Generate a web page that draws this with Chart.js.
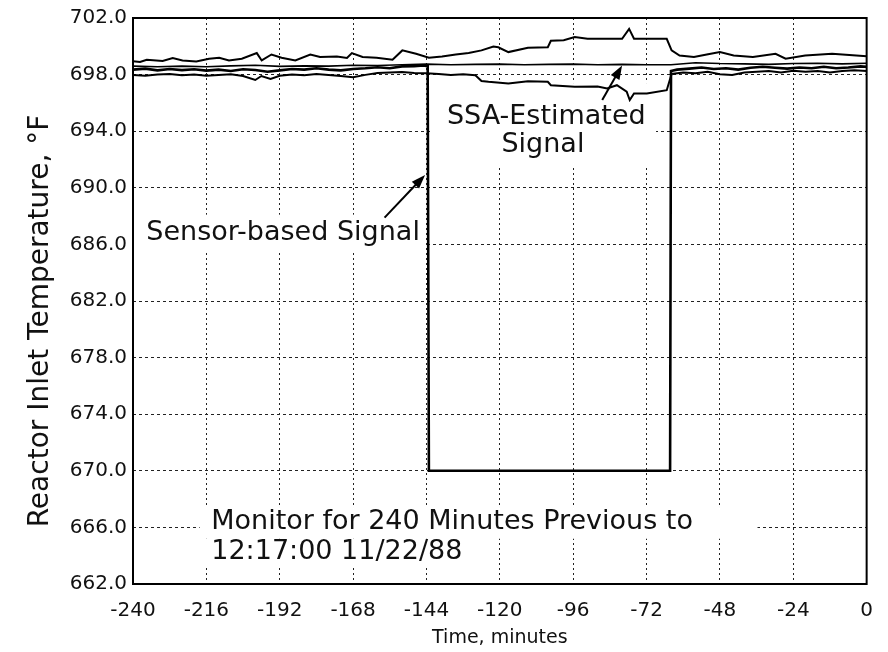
<!DOCTYPE html>
<html><head><meta charset="utf-8">
<script src="https://cdn.jsdelivr.net/npm/chart.js@4.4.1/dist/chart.umd.min.js"></script>
<style>html,body{margin:0;padding:0;background:#fff;}#wrap{width:888px;height:652px;}</style>
</head><body><div id="wrap"><canvas id="c" width="888" height="652"></canvas></div>
<script>
// ---------- data ----------
const xTicks = [-240,-216,-192,-168,-144,-120,-96,-72,-48,-24,0];
const yTicks = [662,666,670,674,678,682,686,690,694,698,702];

const sensorTime = [-240,-236,-232,-228,-224,-220,-216,-212,-208,-204,-200,-196,-192,-188,-184,-180,-176,-172,-168,-164,-160,-156,-152,-148,-145,-143.6,-143.2,-64.3,-64.0,-62,-58,-54,-50,-46,-42,-38,-34,-30,-26,-22,-18,-14,-10,-6,-2,0];
const sensorTemp = [698.35,698.42,698.3,698.4,698.32,698.38,698.28,698.35,698.25,698.38,698.32,698.2,698.3,698.4,698.35,698.45,698.35,698.3,698.4,698.45,698.52,698.45,698.58,698.6,698.65,698.6,670.0,670.0,698.25,698.35,698.42,698.5,698.4,698.45,698.35,698.48,698.55,698.48,698.42,698.5,698.45,698.55,698.45,698.5,698.58,698.55];

const ssaTime = [-240,-232,-224,-216,-208,-200,-192,-184,-176,-168,-160,-152,-144,-136,-128,-120,-112,-104,-96,-88,-80,-72,-64,-56,-48,-40,-32,-24,-16,-8,0];
const ssaTemp = [698.6,698.55,698.6,698.55,698.62,698.66,698.58,698.62,698.6,698.66,698.64,698.7,698.74,698.7,698.72,698.74,698.7,698.72,698.74,698.7,698.72,698.7,698.7,698.84,698.78,698.76,698.72,698.78,698.8,698.76,698.8];

const upperTime = [-240,-237.7,-235.5,-230.3,-227,-223.8,-219.3,-215.1,-211.8,-208.6,-204.4,-199.5,-197.9,-194.7,-191.4,-186.9,-182,-178.8,-173.3,-170,-168.4,-164.9,-160.3,-155.1,-151.9,-147.4,-143.2,-138.9,-134.4,-130.2,-126,-122.1,-120.5,-117.2,-110.8,-104.3,-103.3,-99.1,-95.5,-91.3,-84.9,-80,-77.7,-76.1,-65.4,-63.8,-61.2,-56.5,-52.3,-48,-43.5,-37.2,-29.8,-26.5,-20.1,-11.3,0];
const upperTemp = [698.95,698.89,699.05,698.96,699.17,699.0,698.93,699.12,699.19,699.0,699.12,699.52,699.0,699.42,699.19,699.0,699.42,699.24,699.28,699.17,699.52,699.24,699.19,699.05,699.71,699.47,699.19,699.28,699.42,699.52,699.71,699.99,699.93,699.59,699.89,699.94,700.39,700.43,700.65,700.53,700.53,700.53,701.23,700.53,700.53,699.71,699.35,699.24,699.42,699.59,699.35,699.24,699.47,699.12,699.35,699.47,699.3];

const lowerTime = [-240,-236,-232,-228,-224,-220,-216,-212,-208,-204,-200,-198,-195,-192,-188,-184,-180,-176,-172,-168,-164,-160,-156,-152,-148,-144,-140,-136,-132,-128,-126,-123.7,-117.2,-110.8,-104.3,-103.3,-95.5,-88,-84.9,-81.7,-78.5,-77.5,-76.1,-71.9,-65.4,-63.8,-60,-56,-52,-48,-44,-40,-36,-32,-28,-24,-20,-16,-12,-8,-4,0];
const lowerTemp = [697.98,697.92,698.0,698.05,697.95,698.0,697.92,697.98,698.02,697.9,697.62,697.9,697.7,697.92,698.0,697.95,698.05,697.98,697.9,697.82,697.98,698.12,698.15,698.18,698.12,698.1,698.05,697.98,698.02,697.95,697.55,697.49,697.37,697.53,697.49,697.25,697.14,697.16,697.02,697.25,696.79,696.2,696.67,696.67,696.9,698.05,698.15,698.1,698.2,698.02,697.98,698.15,698.2,698.25,698.15,698.28,698.2,698.25,698.15,698.25,698.3,698.25];

const noteTexts = ["SSA-Estimated","Signal","Sensor-based Signal","Monitor for 240 Minutes Previous to","12:17:00 11/22/88"];
const yTitle = "Reactor Inlet Temperature, \u00B0F";
const xTitle = "Time, minutes";

// ---------- annotation layout (data units) ----------
const notePos = [
  {x:-104.8, y:695.0, align:'center'},
  {x:-105.9, y:693.0, align:'center'},
  {x:-190.9, y:686.84, align:'center'},
  {x:-214.4, y:666.35, align:'left'},
  {x:-214.4, y:664.25, align:'left'}
];
const noteBoxes = [
  {x0:-142.6, x1:-68.9, y0:697.4, y1:691.5},
  {x0:-240, x1:-144.7, y0:688.1, y1:685.45},
  {x0:-218.2, x1:-35.7, y0:667.5, y1:665.2},
  {x0:-218.2, x1:-128.9, y0:665.2, y1:663.2}
];
const arrows = [
  {fx:-157.7, fy:687.89, tx:-144.45, ty:690.91},
  {fx:-86.5, fy:696.2, tx:-80.0, ty:698.65}
];

const FONT = '"DejaVu Sans", "Liberation Sans", sans-serif';

function pts(t, v){ return t.map((x,i)=>({x:x, y:v[i]})); }

const overlay = {
  id:'overlay',
  beforeDatasetsDraw(chart){
    const {ctx, scales:{x,y}} = chart;
    ctx.save();
    ctx.fillStyle = '#fff';
    noteBoxes.forEach(b=>{
      const px0 = x.getPixelForValue(b.x0), px1 = x.getPixelForValue(b.x1);
      const py0 = y.getPixelForValue(b.y0), py1 = y.getPixelForValue(b.y1);
      ctx.fillRect(px0, py0, px1-px0, py1-py0);
    });
    ctx.fillStyle = '#111';
    ctx.font = '27px ' + FONT;
    ctx.textBaseline = 'middle';
    noteTexts.forEach((t,i)=>{
      const p = notePos[i];
      ctx.textAlign = p.align;
      ctx.fillText(t, x.getPixelForValue(p.x), y.getPixelForValue(p.y));
    });
    // y axis title
    ctx.save();
    ctx.translate(41, 321);
    ctx.rotate(-Math.PI/2);
    ctx.textAlign = 'center';
    ctx.font = '28px ' + FONT;
    ctx.fillText(yTitle, 0, 0);
    ctx.restore();
    ctx.restore();
  },
  afterDatasetsDraw(chart){
    const {ctx, chartArea:a, scales:{x,y}} = chart;
    ctx.save();
    ctx.strokeStyle = '#000';
    ctx.fillStyle = '#000';
    ctx.lineWidth = 2;
    arrows.forEach(ar=>{
      const x1 = x.getPixelForValue(ar.fx), y1 = y.getPixelForValue(ar.fy);
      const x2 = x.getPixelForValue(ar.tx), y2 = y.getPixelForValue(ar.ty);
      const ang = Math.atan2(y2-y1, x2-x1);
      const L = 14, W = 5;
      ctx.beginPath(); ctx.moveTo(x1,y1);
      ctx.lineTo(x2 - L*0.8*Math.cos(ang), y2 - L*0.8*Math.sin(ang)); ctx.stroke();
      ctx.beginPath();
      ctx.moveTo(x2,y2);
      ctx.lineTo(x2 - L*Math.cos(ang) + W*Math.sin(ang), y2 - L*Math.sin(ang) - W*Math.cos(ang));
      ctx.lineTo(x2 - L*Math.cos(ang) - W*Math.sin(ang), y2 - L*Math.sin(ang) + W*Math.cos(ang));
      ctx.closePath(); ctx.fill();
    });
    ctx.lineWidth = 2;
    ctx.strokeRect(a.left, a.top, a.right-a.left, a.bottom-a.top);
    ctx.restore();
  }
};

const line = (data, w) => ({data, borderColor:'#000', borderWidth:w, pointRadius:0, tension:0, fill:false});

new Chart(document.getElementById('c'), {
  type:'line',
  data:{datasets:[
    Object.assign(line(pts(upperTime, upperTemp), 2), {label:'Upper'}),
    Object.assign(line(pts(ssaTime, ssaTemp), 1.6), {label:'SSA-Estimated Signal'}),
    Object.assign(line(pts(sensorTime, sensorTemp), 2.6), {label:'Sensor-based Signal'}),
    Object.assign(line(pts(lowerTime, lowerTemp), 2), {label:'Lower'})
  ]},
  options:{
    responsive:false, animation:false, devicePixelRatio:1,
    layout:{padding:{top:15, right:16, left:0, bottom:0}},
    plugins:{legend:{display:false}, tooltip:{enabled:false}},
    scales:{
      x:{type:'linear', min:-240, max:0,
        afterBuildTicks:s=>{ s.ticks = xTicks.map(v=>({value:v})); },
        afterFit:s=>{ s.height = 68; },
        ticks:{color:'#111', font:{family:FONT, size:20}, padding:15, maxRotation:0, autoSkip:false,
          callback:v=>String(v)},
        grid:{drawTicks:false, color:c=>(c.tick && (c.tick.value===-240||c.tick.value===0))?'rgba(0,0,0,0)':'#222', lineWidth:1},
        border:{display:false, dash:[2,3]},
        title:{display:true, text:xTitle, color:'#111', font:{family:FONT, size:19}, padding:{top:0,bottom:3}}
      },
      y:{type:'linear', min:662, max:702,
        afterBuildTicks:s=>{ s.ticks = yTicks.map(v=>({value:v})); },
        afterFit:s=>{ s.width = 133; },
        ticks:{color:'#111', font:{family:FONT, size:20}, padding:6, autoSkip:false,
          callback:v=>Number(v).toFixed(1)},
        grid:{drawTicks:false, color:c=>(c.tick && (c.tick.value===662||c.tick.value===702))?'rgba(0,0,0,0)':'#222', lineWidth:1},
        border:{display:false, dash:[3,3]}
      }
    }
  },
  plugins:[overlay]
});
</script>
</body></html>
